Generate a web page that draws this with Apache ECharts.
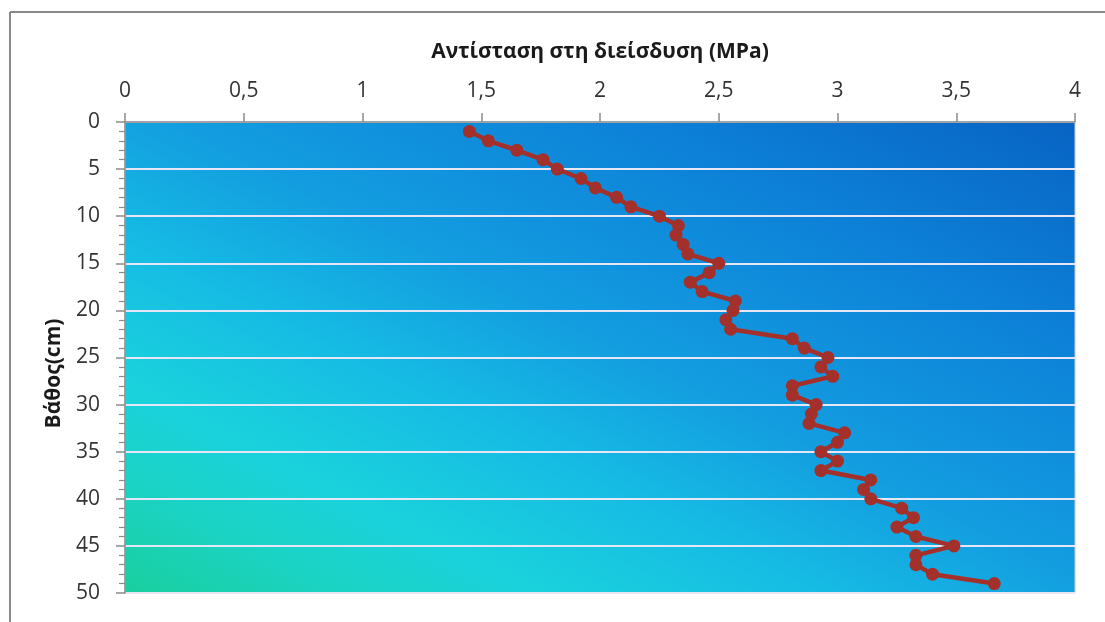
<!DOCTYPE html>
<html>
<head>
<meta charset="utf-8">
<style>
  html, body { margin: 0; padding: 0; background: #ffffff; }
  #chart { width: 1105px; height: 622px; }
</style>
<script src="https://cdn.jsdelivr.net/npm/echarts@6/dist/echarts.min.js"></script>
</head>
<body>
<div id="chart"></div>
<script>
// Penetration resistance profile: depth (cm) vs resistance (MPa)
const depths = [
  1, 2, 3, 4, 5, 6, 7, 8, 9, 10,
  11, 12, 13, 14, 15, 16, 17, 18, 19, 20,
  21, 22, 23, 24, 25, 26, 27, 28, 29, 30,
  31, 32, 33, 34, 35, 36, 37, 38, 39, 40,
  41, 42, 43, 44, 45, 46, 47, 48, 49
];
const resistance = [
  1.45, 1.53, 1.65, 1.76, 1.82, 1.92, 1.98, 2.07, 2.13, 2.25,
  2.33, 2.32, 2.35, 2.37, 2.50, 2.46, 2.38, 2.43, 2.57, 2.56,
  2.53, 2.55, 2.81, 2.86, 2.96, 2.93, 2.98, 2.81, 2.81, 2.91,
  2.89, 2.88, 3.03, 3.00, 2.93, 3.00, 2.93, 3.14, 3.11, 3.14,
  3.27, 3.32, 3.25, 3.33, 3.49, 3.33, 3.33, 3.40, 3.66
];
const xTitle = 'Αντίσταση στη διείσδυση (MPa)';
const yTitle = 'Βάθος(cm)';

const points = depths.map((d, i) => [resistance[i], d]);

const fontFamily = '"Open Sans", "DejaVu Sans", sans-serif';
const axisGray = '#8c8c8c';

const chart = echarts.init(document.getElementById('chart'), null, { renderer: 'canvas' });

chart.setOption({
  animation: false,
  backgroundColor: '#ffffff',
  graphic: [
    { type: 'line', shape: { x1: 10, y1: 12, x2: 1105, y2: 12 }, style: { stroke: '#8a8a8a', lineWidth: 2 }, z: -1 },
    { type: 'line', shape: { x1: 10, y1: 12, x2: 10, y2: 622 }, style: { stroke: '#8a8a8a', lineWidth: 2 }, z: -1 }
  ],
  grid: {
    left: 125,
    right: 30,
    top: 122,
    bottom: 29,
    show: true,
    borderColor: '#c9cbe0',
    borderWidth: 1,
    backgroundColor: {
      type: 'linear',
      x: 0, y: 1, x2: 0.4, y2: -0.6,
      colorStops: [
        { offset: 0, color: '#19cf9e' },
        { offset: 0.12, color: '#1bd3c4' },
        { offset: 0.22, color: '#1ad2dc' },
        { offset: 0.37, color: '#16bce4' },
        { offset: 0.52, color: '#139ee0' },
        { offset: 0.76, color: '#0d82d8' },
        { offset: 1, color: '#0864c4' }
      ]
    }
  },
  xAxis: {
    type: 'value',
    position: 'top',
    min: 0,
    max: 4,
    interval: 0.5,
    name: xTitle,
    nameLocation: 'middle',
    nameGap: 59,
    nameTextStyle: { fontFamily, fontWeight: 'bold', fontSize: 21, color: '#1a1a1a' },
    axisLine: { show: true, lineStyle: { color: axisGray, width: 1.5 } },
    axisTick: { show: true, inside: false, length: 9, lineStyle: { color: axisGray, width: 1.5 } },
    axisLabel: {
      margin: 20,
      fontFamily,
      fontSize: 21,
      color: '#333333',
      formatter: v => String(v).replace('.', ',')
    },
    splitLine: { show: false }
  },
  yAxis: {
    type: 'value',
    inverse: true,
    min: 0,
    max: 50,
    interval: 5,
    name: yTitle,
    nameLocation: 'middle',
    nameGap: 60,
    nameRotate: 90,
    nameTextStyle: { fontFamily, fontWeight: 'bold', fontSize: 21, color: '#1a1a1a', padding: [0, 32, 0, 0] },
    axisLine: { show: true, lineStyle: { color: axisGray, width: 1.5 } },
    axisTick: { show: true, inside: false, length: 9, lineStyle: { color: axisGray, width: 1.5 } },
    minorTick: { show: true, splitNumber: 5, length: 6, lineStyle: { color: axisGray, width: 1.2 } },
    axisLabel: { margin: 25, fontFamily, fontSize: 21, color: '#333333' },
    splitLine: { show: true, lineStyle: { color: '#e6e6f6', width: 2 } }
  },
  series: [{
    type: 'line',
    data: points,
    symbol: 'circle',
    symbolSize: 13,
    lineStyle: { color: '#a3302a', width: 4.5 },
    itemStyle: { color: '#a3302a' },
    z: 5
  }]
});
</script>
</body>
</html>
